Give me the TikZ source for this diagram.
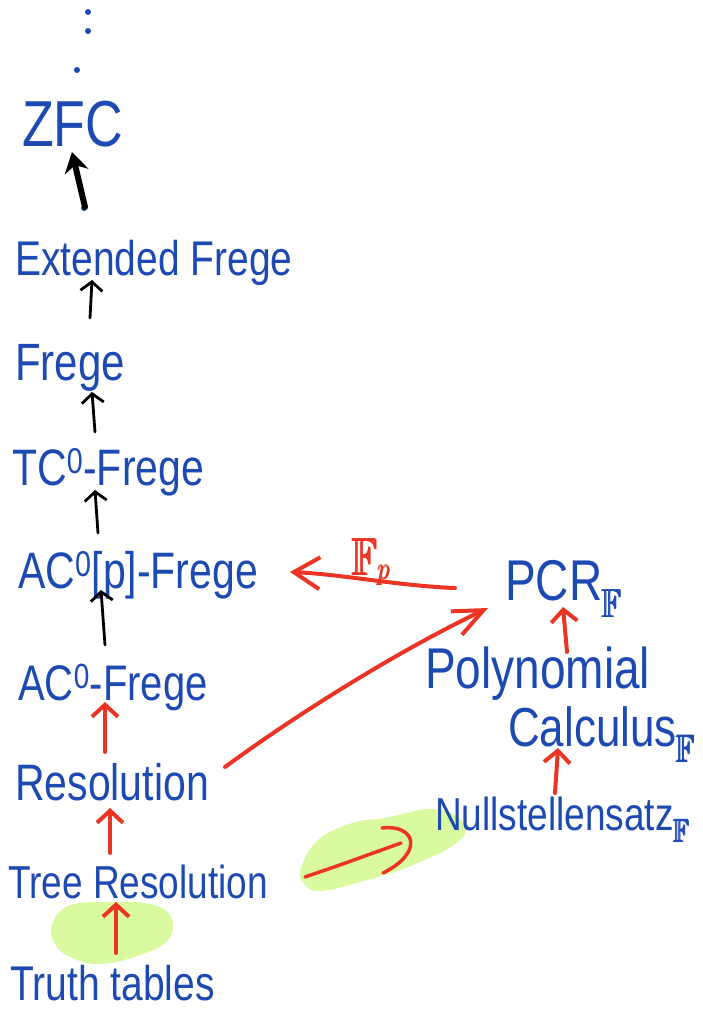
\documentclass[tikz,border=0pt]{standalone}
\usepackage{fontspec}
\usepackage{amsmath}
\usepackage{amssymb}
\usepackage{graphicx}
\setmainfont{Liberation Sans}
\usetikzlibrary{arrows.meta,calc}
\definecolor{hwblue}{RGB}{28,74,178}
\definecolor{hwred}{RGB}{236,52,36}
\definecolor{hwgreen}{RGB}{218,250,160}
\newcommand{\hwtxt}[1]{\scalebox{1}[1.25]{#1}}
\newcommand{\hwF}{\pmb{\mathbb{F}}}
\tikzset{
  lbl/.style={text=hwblue, inner sep=0pt, anchor=base west, font=\fontsize{#1}{#1}\selectfont},
  redlbl/.style={text=hwred, inner sep=0pt, anchor=base west, font=\fontsize{#1}{#1}\selectfont},
  blkarr/.style={draw=black, line width=2.8pt, line cap=round, -{Straight Barb[length=9pt,width=22pt]}},
  zfcarr/.style={draw=black, line width=6pt, line cap=round, -{Stealth[length=20pt,width=24pt]}},
  redarr/.style={draw=hwred, line width=4pt, line cap=round, -{Straight Barb[length=12pt,width=26pt]}},
  redline/.style={draw=hwred, line width=3.5pt, line cap=round, line join=round},
  blob/.style={fill=hwgreen, draw=none},
}
\begin{document}
\begin{tikzpicture}[x=1pt,y=-1pt]
\useasboundingbox (0,0) rectangle (703,1009);
% green highlights
\fill[blob] plot[smooth cycle, tension=0.7] coordinates {(52,925) (68,906) (105,902) (150,904) (171,917) (168,940) (140,955) (100,964) (70,957) (55,944)};
\fill[blob] plot[smooth cycle, tension=0.7] coordinates {(301,868) (318,840) (352,823) (385,818) (433,809) (462,821) (460,840) (418,863) (367,880) (320,891) (303,882)};
% continuation dots
\fill[hwblue] (88,12) circle[radius=3];
\fill[hwblue] (88,31) circle[radius=3];
\fill[hwblue] (77,70) circle[radius=3];
% left column
\node[lbl=52] (zfc) at (22,146) {\hwtxt{ZFC}};
\node[lbl=39] (ext) at (15,275) {\hwtxt{Extended Frege}};
\node[lbl=42] (frege) at (15,380) {\hwtxt{Frege}};
\node[lbl=41] (tc) at (12,485) {\hwtxt{TC\textsuperscript{0}-Frege}};
\node[lbl=41] (acp) at (18,588) {\hwtxt{AC\textsuperscript{0}[p]-Frege}};
\node[lbl=40] (ac) at (18,700) {\hwtxt{AC\textsuperscript{0}-Frege}};
\node[lbl=41] (res) at (15,800) {\hwtxt{Resolution}};
\node[lbl=37] (tree) at (8,898) {\hwtxt{Tree Resolution}};
\node[lbl=39] (truth) at (10,1000) {\hwtxt{Truth tables}};
% right column
\node[lbl=46] (pcr) at (505,600) {\hwtxt{PCR$_{\hwF}$}};
\node[lbl=46] (poly) at (425,688) {\hwtxt{Polynomial}};
\node[lbl=44] (calc) at (508,746) {\hwtxt{Calculus$_{\hwF}$}};
\node[lbl=37] (null) at (435,830) {\hwtxt{Nullstellensatz$_{\hwF}$}};
\node[redlbl=42] (fp) at (352,575) {\hwtxt{$\hwF_{\pmb{p}}$}};
% black connectors
\fill[hwblue] ($(ext.base west)+(69,-67)$) circle[radius=3];
\draw[zfcarr] ($(ext.base west)+(70,-68)$) -- ($(zfc.base west)+(50,6)$);
\draw[blkarr] ($(frege.base west)+(75,-62)$) -- ($(ext.base west)+(77,5)$);
\draw[blkarr] ($(tc.base west)+(83,-53)$) -- ($(frege.base west)+(77,12)$);
\draw[blkarr] ($(acp.base west)+(80,-55)$) -- ($(tc.base west)+(83,5)$);
\draw[blkarr] ($(ac.base west)+(87,-55)$) -- ($(acp.base west)+(83,2)$);
% red connectors
\draw[redarr] ($(res.base west)+(90,-48)$) -- ($(ac.base west)+(87,2)$);
\draw[redarr] ($(tree.base west)+(102,-45)$) -- ($(res.base west)+(95,8)$);
\draw[redarr] ($(truth.base west)+(106,-47)$) -- ($(tree.base west)+(108,4)$);
\draw[redarr] ($(poly.base west)+(142,-36)$) -- ($(pcr.base west)+(58,7)$);
\draw[redarr] ($(null.base west)+(120,-37)$) -- ($(calc.base west)+(50,2)$);
\draw[redarr, -{Straight Barb[length=26pt,width=32pt]}] ($(pcr.base west)+(-50,-12)$) .. controls (400,586) and (340,574) .. ($(acp.base west)+(272,-16)$);
\draw[redarr, -{Straight Barb[length=30pt,width=26pt]}] ($(res.base west)+(210,-33)$) .. controls (300,712) and (400,650) .. ($(pcr.base west)+(-17,8)$);
% curved-head arrow Tree Resolution -> Nullstellensatz
\coordinate (hk1) at (382,828);
\coordinate (hk2) at (383,873);
\draw[redline] ($(tree.base west)+(297,-21)$) .. controls (340,865) .. ($(null.base west)+(-34,13)$);
\draw[redline] (hk1) .. controls (415,824) and (425,852) .. (hk2);
\end{tikzpicture}
\end{document}
